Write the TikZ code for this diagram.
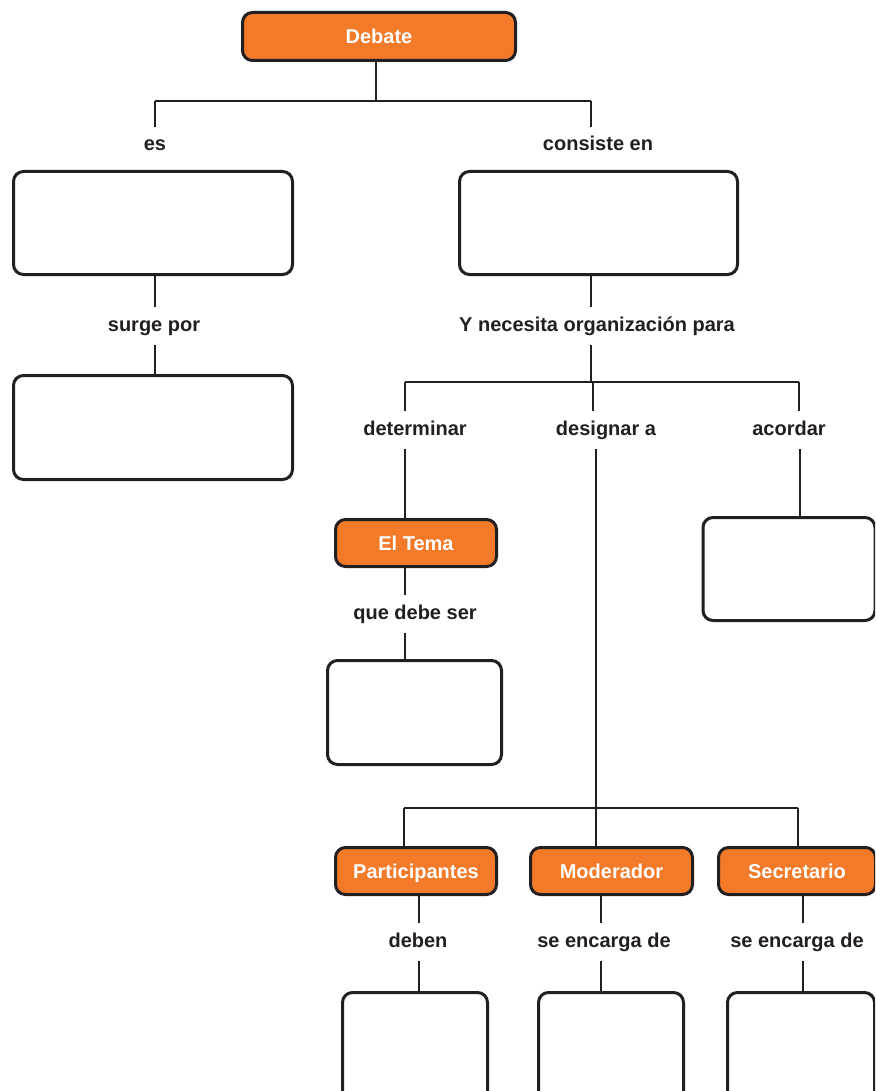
\documentclass[tikz,border=0pt]{standalone}
\usepackage{fontspec}
\setmainfont{Liberation Sans}
\definecolor{org}{RGB}{243,122,41}
\definecolor{ink}{RGB}{35,31,32}
\begin{document}
\begin{tikzpicture}[x=1pt,y=-1pt,
  lbl/.style={font=\bfseries\fontsize{20}{23}\selectfont, text=ink, inner sep=0pt,
    text height=14pt, text depth=4pt, outer ysep=10pt, outer xsep=0pt},
  box/.style={draw=ink, line width=3pt, rounded corners=10pt, fill=white,
    inner sep=0pt, minimum width=#1},
  bigbox/.style={box=#1, minimum height=103pt},
  obox/.style={box=#1, fill=org, minimum height=47pt, text=white,
    font=\bfseries\fontsize{20}{23}\selectfont, text height=17pt, text depth=3pt},
  conn/.style={draw=ink, line width=1.1pt}]
\useasboundingbox (0,0) rectangle (875,1091);
\clip (0,0) rectangle (875,1091);
\fill[white] (0,0) rectangle (875,1091);

% boxes
\node[obox=273pt, minimum height=48pt] (debate) at (379,36.5) {Debate};
\node[bigbox=279pt] (b1) at (153,223) {};
\node[bigbox=278pt] (b2) at (598.5,223) {};
\node[bigbox=279pt, minimum height=104pt] (b3) at (153,427.5) {};
\node[obox=161pt] (tema) at (416,543) {El Tema};
\node[bigbox=174pt, minimum height=104pt] (b4) at (414.5,712.5) {};
\node[bigbox=172pt] (b5) at (789,569) {};
\node[obox=161pt] (part) at (416,871) {Participantes};
\node[obox=162pt] (mod) at (611.5,871) {Moderador};
\node[obox=157pt] (sec) at (797,871) {Secretario};
\node[box=145pt, minimum height=115pt] (b6) at (415,1050) {};
\node[box=145pt, minimum height=115pt] (b7) at (611,1050) {};
\node[box=147pt, minimum height=115pt] (b8) at (801,1050) {};

% labels
\node[lbl] (es) at (155,146) {es};
\node[lbl] (cons) at (598,146) {consiste en};
\node[lbl] (surge) at (154,326) {surge por};
\node[lbl] (nec) at (597,326) {Y necesita organización para};
\node[lbl] (det) at (415,430) {determinar};
\node[lbl] (des) at (606,430) {designar a};
\node[lbl] (aco) at (789,430) {acordar};
\node[lbl] (que) at (415,614) {que debe ser};
\node[lbl] (deb) at (418,942) {deben};
\node[lbl] (enc1) at (604,942) {se encarga de};
\node[lbl] (enc2) at (797,942) {se encarga de};

% junction coordinates
\coordinate (j0) at (376,101);
\coordinate (j0l) at (155,101);
\coordinate (j0r) at (591,101);
\coordinate (j1) at (593,382);
\coordinate (j1l) at (405,382);
\coordinate (j1r) at (799,382);
\coordinate (j2) at (596,808);
\coordinate (j2l) at (404,808);
\coordinate (j2r) at (798,808);

% connectors
\draw[conn] (debate.south -| j0) -- (j0);
\draw[conn] (j0l) -- (j0r);
\draw[conn] (j0l) -- (es.north -| j0l);
\draw[conn] (j0r) -- (cons.north -| j0r);

\draw[conn] (b1.south -| j0l) -- (surge.north -| j0l);
\draw[conn] (surge.south -| j0l) -- (b3.north -| j0l);

\draw[conn] (b2.south -| j0r) -- (nec.north -| j0r);
\draw[conn] (nec.south -| j0r) -- (j0r |- j1);
\draw[conn] (j1l) -- (j1r);
\draw[conn] (j1l) -- (det.north -| j1l);
\draw[conn] (j1) -- (des.north -| j1);
\draw[conn] (j1r) -- (aco.north -| j1r);

\draw[conn] (det.south -| j1l) -- (tema.north -| j1l);
\draw[conn] (tema.south -| j1l) -- (que.north -| j1l);
\draw[conn] (que.south -| j1l) -- (b4.north -| j1l);
\draw[conn] ([xshift=1pt]aco.south -| j1r) -- ([xshift=1pt]b5.north -| j1r);

\draw[conn] (des.south -| j2) -- (j2);
\draw[conn] (j2l) -- (j2r);
\draw[conn] (j2l) -- (part.north -| j2l);
\draw[conn] (j2) -- (mod.north -| j2);
\draw[conn] (j2r) -- (sec.north -| j2r);

\coordinate (k1) at (419,925);
\coordinate (k2) at (601,925);
\coordinate (k3) at (803,925);
\draw[conn] (part.south -| k1) -- (deb.north -| k1);
\draw[conn] (deb.south -| k1) -- (b6.north -| k1);
\draw[conn] (mod.south -| k2) -- (enc1.north -| k2);
\draw[conn] (enc1.south -| k2) -- (b7.north -| k2);
\draw[conn] (sec.south -| k3) -- (enc2.north -| k3);
\draw[conn] (enc2.south -| k3) -- (b8.north -| k3);
\end{tikzpicture}
\end{document}
